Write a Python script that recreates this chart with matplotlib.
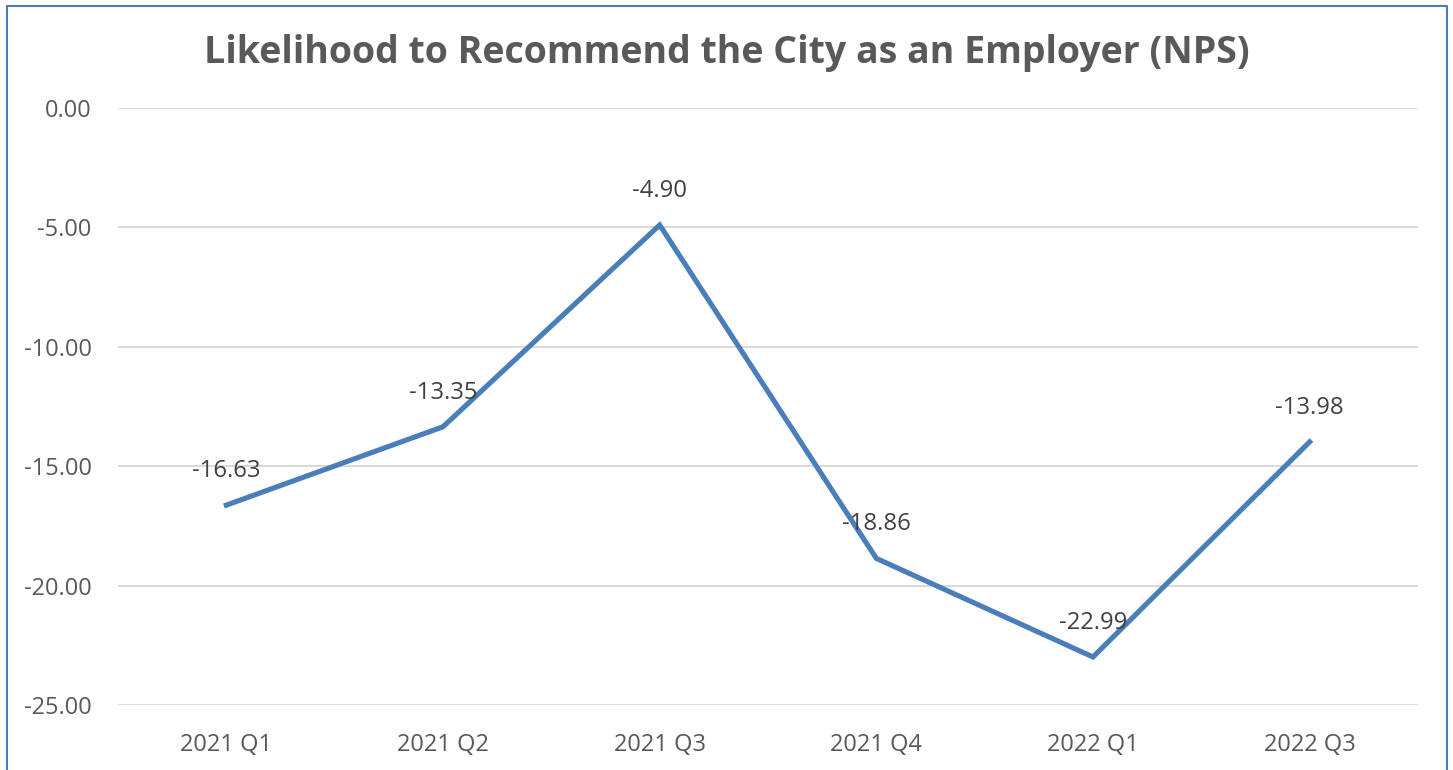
import matplotlib
matplotlib.use("Agg")
import matplotlib.pyplot as plt
from matplotlib.lines import Line2D

quarters = ["2021 Q1", "2021 Q2", "2021 Q3", "2021 Q4", "2022 Q1", "2022 Q3"]
nps = [-16.63, -13.35, -4.90, -18.86, -22.99, -13.98]
y_ticks = [0, -5, -10, -15, -20, -25]

plt.rcParams['font.family'] = ['Open Sans', 'DejaVu Sans']
plt.rcParams['axes.unicode_minus'] = False

fig = plt.figure(figsize=(14.53, 7.7), dpi=100)
ax = fig.add_axes([118 / 1453, 1 - 705 / 770, 1300 / 1453, (705 - 108) / 770])

x = list(range(len(quarters)))
ax.plot(x, nps, color='#4A7EBB', linewidth=3.7, solid_joinstyle='miter')

for xi, v in zip(x, nps):
    ax.annotate(f"{v:.2f}", (xi, v), xytext=(0, 24.5), textcoords='offset points',
                ha='center', va='center', fontsize=17.2, color='#404040')

ax.set_xlim(-0.5, len(quarters) - 0.5)
ax.set_ylim(-25, 0)
ax.set_xticks(x)
ax.set_xticklabels(quarters)
ax.set_yticks(y_ticks)
ax.set_yticklabels([f"{t:.2f}" for t in y_ticks])
ax.tick_params(axis='both', length=0, labelsize=17, labelcolor='#595959')
ax.tick_params(axis='y', pad=19)
ax.tick_params(axis='x', pad=20)
ax.grid(True, axis='y', color='#D9D9D9', linewidth=1.4)
ax.set_axisbelow(True)
for s in ax.spines.values():
    s.set_visible(False)

fig.text(727 / 1453, 1 - 53 / 770, "Likelihood to Recommend the City as an Employer (NPS)",
         ha='center', va='center', fontsize=27, fontweight='bold', color='#595959')

# chart frame: left, top and right edges
frame_color = '#4A7EBB'
l, r, t = 6.5 / 1453, 1446.5 / 1453, 1 - 5.5 / 770
fig.add_artist(Line2D([l, l, r, r], [-0.05, t, t, -0.05], transform=fig.transFigure,
                      color=frame_color, linewidth=1.5))

fig.savefig('out.png', dpi=100)
